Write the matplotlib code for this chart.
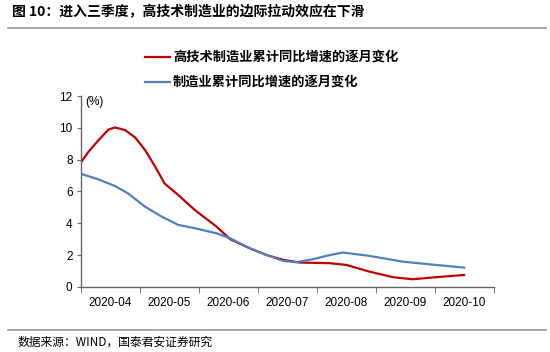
import numpy as np
import matplotlib
matplotlib.use("Agg")
import matplotlib.pyplot as plt
from matplotlib.lines import Line2D

plt.rcParams['font.family'] = ['Liberation Sans', 'Noto Sans CJK SC', 'DejaVu Sans']

months = ['2020-04', '2020-05', '2020-06', '2020-07', '2020-08', '2020-09', '2020-10']
names = ['高技术制造业累计同比增速的逐月变化', '制造业累计同比增速的逐月变化']

# values; x in month units (0 = 2020-04)
x_hightech = [-0.49, -0.37, -0.20, -0.03, 0.08, 0.25, 0.42, 0.59, 0.76, 0.92, 1.15, 1.43,
              1.80, 2.03, 2.36, 2.65, 2.93, 3.21, 3.72, 4.0, 4.39, 4.79, 5.12, 5.52, 6.0]
hightech = [7.87, 8.5, 9.23, 9.9, 10.03, 9.86, 9.4, 8.6, 7.56, 6.5, 5.78, 4.84,
            3.79, 3.0, 2.43, 2.0, 1.7, 1.53, 1.49, 1.38, 0.96, 0.61, 0.48, 0.61, 0.75]
x_manuf = [-0.49, -0.20, 0.08, 0.30, 0.59, 0.87, 1.15, 1.43, 1.80, 2.03, 2.36, 2.65,
           2.93, 3.15, 3.43, 3.72, 3.94, 4.39, 4.95, 5.52, 6.0]
manuf = [7.1, 6.76, 6.34, 5.88, 5.04, 4.42, 3.9, 3.69, 3.37, 3.06, 2.43, 2.0,
         1.63, 1.55, 1.74, 2.0, 2.16, 1.95, 1.59, 1.38, 1.21]
red = '#C00000'
blue = '#4F81BD'

fig = plt.figure(figsize=(5.5, 3.52), dpi=100)
ax = fig.add_axes([0.147, 0.185, 0.751, 0.542])

ax.plot(x_hightech, hightech, color=red, lw=1.6, solid_capstyle='round', solid_joinstyle='round')
ax.plot(x_manuf, manuf, color=blue, lw=1.6, solid_capstyle='round', solid_joinstyle='round')

ax.set_xlim(-0.5, 6.5)
ax.set_ylim(0, 12)
ax.set_yticks(np.arange(0, 13, 2))
ax.set_xticks(range(len(months)))
ax.set_xticklabels(months, fontsize=8.5)
ax.set_xticks(np.arange(-0.5, 7, 1), minor=True)
ax.tick_params(axis='x', which='major', length=0, pad=7)
ax.tick_params(axis='x', which='minor', length=4, color='#666666', direction='out')
ax.tick_params(axis='y', labelsize=8.5, length=3, color='#666666', pad=3)
for s in ['top', 'right']:
    ax.spines[s].set_visible(False)
for s in ['left', 'bottom']:
    ax.spines[s].set_color('#666666')
    ax.spines[s].set_linewidth(1.0)
ax.text(0.01, 1.0, '(%)', transform=ax.transAxes, fontsize=8.5, va='top', ha='left')

# legend drawn manually at top
fig.add_artist(Line2D([145/550, 170/550], [1-57/352]*2, color=red, lw=1.6))
fig.add_artist(Line2D([145/550, 170/550], [1-82/352]*2, color=blue, lw=1.6))
fig.text(173/550, 1-57/352, names[0], fontsize=9.5, fontweight='bold', va='center',
         family=['Noto Sans CJK SC', 'DejaVu Sans'])
fig.text(173/550, 1-82/352, names[1], fontsize=9.5, fontweight='bold', va='center',
         family=['Noto Sans CJK SC', 'DejaVu Sans'])

# title and source
fig.text(12/550, 1-12/352, '图 10：进入三季度，高技术制造业的边际拉动效应在下滑', fontsize=10,
         fontweight='bold', va='center', family=['Noto Sans CJK SC', 'DejaVu Sans'])
fig.add_artist(Line2D([8/550, 546/550], [1-28/352]*2, color='#999999', lw=1.2))
fig.add_artist(Line2D([8/550, 546/550], [1-330/352]*2, color='#999999', lw=1.2))
fig.text(18/550, 1-342/352, '数据来源：WIND，国泰君安证券研究', fontsize=8.5,
         va='center', family=['Noto Sans CJK SC', 'DejaVu Sans'])

fig.savefig('out.png', dpi=100)
